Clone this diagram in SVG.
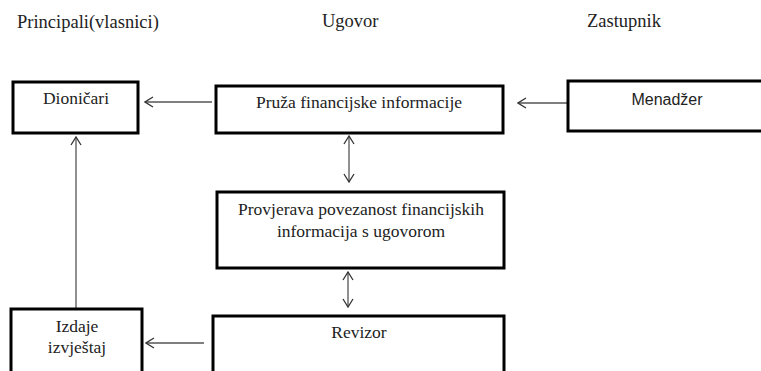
<svg xmlns="http://www.w3.org/2000/svg" width="761" height="371" viewBox="0 0 761 371">
<style>
.box{fill:#fff;stroke:#000;stroke-width:3}
.t{font-size:17.5px;fill:#222;text-anchor:middle}
.h{font-size:18.5px;fill:#222}
.s{font-size:16px;fill:#222;text-anchor:middle}
.c{stroke:#555;stroke-width:1.3;fill:none}
</style>
<defs>
<marker id="ah" viewBox="0 0 10 12" refX="9" refY="6" markerWidth="10" markerHeight="12" markerUnits="userSpaceOnUse" orient="auto-start-reverse">
<path d="M1,1 L9,6 L1,11" fill="none" stroke="#333" stroke-width="1.3"/>
</marker>
</defs>
<rect width="761" height="371" fill="#fff"/>
<g id="headers" font-family="'Liberation Serif', 'DejaVu Serif', serif">
<text class="h" x="17" y="28">Principali(vlasnici)</text>
<text class="h" x="322" y="27">Ugovor</text>
<text class="h" x="587" y="27">Zastupnik</text>
</g>
<g id="connectors">
<line class="c" x1="212" y1="102" x2="145" y2="102" marker-end="url(#ah)"/>
<line class="c" x1="567" y1="103" x2="518" y2="103" marker-end="url(#ah)"/>
<line class="c" x1="349" y1="136" x2="349" y2="182" marker-start="url(#ah)" marker-end="url(#ah)"/>
<line class="c" x1="348" y1="272" x2="348" y2="307" marker-start="url(#ah)" marker-end="url(#ah)"/>
<line class="c" x1="76" y1="308" x2="76" y2="137" marker-end="url(#ah)"/>
<line class="c" x1="204" y1="343" x2="146" y2="343" marker-end="url(#ah)"/>
</g>
<g id="dionicari" font-family="'Liberation Serif', 'DejaVu Serif', serif">
<rect class="box" x="13" y="82" width="125" height="51"/>
<text class="t" x="76" y="104">Dioničari</text>
</g>
<g id="pruza" font-family="'Liberation Serif', 'DejaVu Serif', serif">
<rect class="box" x="216" y="86" width="287" height="47"/>
<text class="t" x="359" y="108">Pruža financijske informacije</text>
</g>
<g id="menadzer" font-family="'Liberation Sans', Arial, sans-serif">
<rect class="box" x="568" y="81" width="200" height="50"/>
<text class="s" x="667" y="105">Menadžer</text>
</g>
<g id="provjerava" font-family="'Liberation Serif', 'DejaVu Serif', serif">
<rect class="box" x="217" y="192" width="287" height="76"/>
<text class="t" x="361" y="215">Provjerava povezanost financijskih</text>
<text class="t" x="361" y="237">informacija s ugovorom</text>
</g>
<g id="revizor" font-family="'Liberation Serif', 'DejaVu Serif', serif">
<rect class="box" x="213" y="316" width="291" height="70"/>
<text class="t" x="359" y="338">Revizor</text>
</g>
<g id="izdaje" font-family="'Liberation Serif', 'DejaVu Serif', serif">
<rect class="box" x="11" y="309" width="131" height="70"/>
<text class="t" x="77" y="332">Izdaje</text>
<text class="t" x="77" y="353">izvještaj</text>
</g>
</svg>
